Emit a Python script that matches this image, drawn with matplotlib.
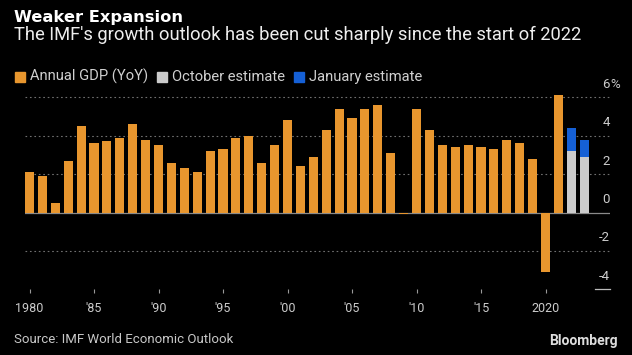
import matplotlib
matplotlib.use('Agg')
import matplotlib.pyplot as plt
from matplotlib.patches import Rectangle

plt.rcParams['font.family'] = ['Roboto', 'DejaVu Sans']

# world GDP growth, % YoY (IMF WEO)
years = list(range(1980, 2022))
gdp = [2.1, 1.9, 0.5, 2.7, 4.5, 3.6, 3.7, 3.9, 4.6, 3.8,
       3.5, 2.6, 2.3, 2.1, 3.2, 3.3, 3.9, 4.0, 2.6, 3.5,
       4.8, 2.4, 2.9, 4.3, 5.4, 4.9, 5.4, 5.6, 3.1, -0.1,
       5.4, 4.3, 3.5, 3.4, 3.5, 3.4, 3.3, 3.8, 3.6, 2.8,
       -3.1, 6.1]
est_years = [2022, 2023]
oct_est = [3.2, 2.9]
jan_est = [4.4, 3.8]

xtick_pos = [1980, 1985, 1990, 1995, 2000, 2005, 2010, 2015, 2020]
xtick_lab = ['1980', "'85", "'90", "'95", "'00", "'05", "'10", "'15", '2020']
ytick_pos = [6, 4, 2, 0, -2, -4]
ytick_lab = ['6%', '4', '2', '0', '-2', '-4']

ORANGE = '#E8962E'
GRAY = '#CBCBCB'
BLUE = '#1560D6'
W, H = 632, 355

fig = plt.figure(figsize=(6.32, 3.55), dpi=100, facecolor='black')
ax = fig.add_axes([25 / W, 1 - 289.3 / H, 585 / W, 201.6 / H])
ax.set_facecolor('black')

ax.bar(years, gdp, width=0.7, color=ORANGE, zorder=3)
ax.bar(est_years, oct_est, width=0.7, color=GRAY, zorder=3)
ax.bar(est_years, [j - o for j, o in zip(jan_est, oct_est)], bottom=oct_est,
       width=0.7, color=BLUE, zorder=3)

ax.set_xlim(1979.65, 2025.0)
ax.set_ylim(-4, 6.5)

# gridlines
for v in [6, 4, 2, -2]:
    ax.axhline(v, color='#707070', lw=0.8, ls=(0, (1.5, 2.5)), zorder=1)
ax.axhline(0, color='#8a8a8a', lw=0.9, zorder=2)
ax.plot([2023.84, 2025.0], [-4, -4], color='#bbbbbb', lw=0.9, clip_on=False)

for v, lab in zip(ytick_pos, ytick_lab):
    if lab.endswith('%'):
        ax.annotate(lab[:-1], xy=(2025.0, v), xytext=(0, 9.4), textcoords='offset points',
                    ha='right', va='center', color='#cccccc', fontsize=9.5)
        ax.annotate('%', xy=(2025.0, v), xytext=(0, 9.4), textcoords='offset points',
                    ha='left', va='center', color='#cccccc', fontsize=9.5)
    else:
        ax.annotate(lab, xy=(2025.0, v), xytext=(0, 9.4), textcoords='offset points',
                    ha='right', va='center', color='#cccccc', fontsize=9.5)

ax.set_yticks([])
ax.set_xticks(xtick_pos)
ax.set_xticklabels(xtick_lab)
ax.tick_params(axis='x', colors='#999999', length=3, width=0.8, pad=6,
               labelsize=9, labelcolor='#cccccc')
for s in ax.spines.values():
    s.set_visible(False)

# header
fig.text(14 / W, 1 - 21.7 / H, 'Weaker Expansion', color='white', fontsize=11.7,
         fontweight='bold', family=['DejaVu Sans'], va='baseline')
fig.text(14 / W, 1 - 39.8 / H, "The IMF's growth outlook has been cut sharply since the start of 2022",
         color='#eeeeee', fontsize=13.2, va='baseline')

# legend
legend_items = [('Annual GDP (YoY)', ORANGE, 15), ('October estimate', GRAY, 157),
                ('January estimate', BLUE, 294)]
for lab, col, x0 in legend_items:
    fig.patches.append(Rectangle((x0 / W, 1 - 81.7 / H), 10 / W, 10 / H,
                                 transform=fig.transFigure, color=col))
    fig.text((x0 + 15) / W, 1 - 76.7 / H, lab, color='#d0d0d0', fontsize=10.6, va='center')

# footer
fig.text(14 / W, 1 - 343 / H, 'Source: IMF World Economic Outlook', color='#c8c8c8',
         fontsize=9.5, va='baseline')
fig.text(618 / W, 1 - 345 / H, 'Bloomberg', color='#dddddd', fontsize=10,
         fontweight='bold', ha='right', va='baseline')

fig.savefig('out.png', dpi=100, facecolor='black')
